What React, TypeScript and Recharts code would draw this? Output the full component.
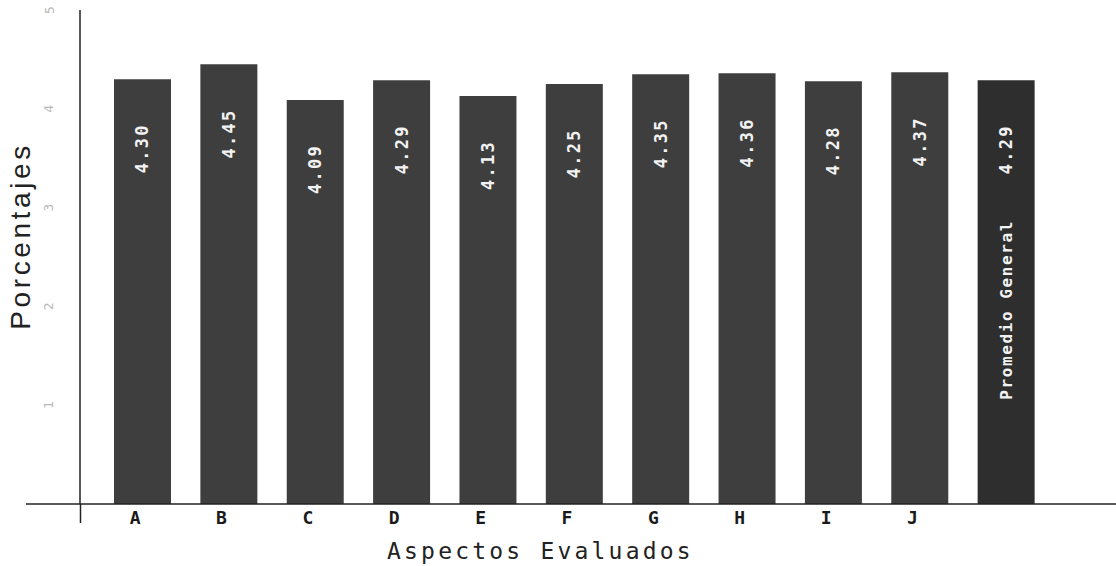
import { Bar, BarChart, Cell, LabelList, XAxis, YAxis } from 'recharts';

const categories = ['A', 'B', 'C', 'D', 'E', 'F', 'G', 'H', 'I', 'J', 'Promedio General'];
const values = [4.3, 4.45, 4.09, 4.29, 4.13, 4.25, 4.35, 4.36, 4.28, 4.37, 4.29];
const valueLabels = ['4.30', '4.45', '4.09', '4.29', '4.13', '4.25', '4.35', '4.36', '4.28', '4.37', '4.29'];
const yTicks = [1, 2, 3, 4, 5];

const data = categories.map((name, i) => ({ name, value: values[i], label: valueLabels[i] }));

const MONO = '"DejaVu Sans Mono", "Liberation Mono", monospace';

function YTick(props: any) {
    const { x, y, payload } = props;
    const cx = x - 23;
    return (
        <text
            x={cx}
            y={y}
            transform={`rotate(-90, ${cx}, ${y})`}
            textAnchor="middle"
            dominantBaseline="central"
            fontFamily={MONO}
            fontSize={13}
            fill="#b8b8b8"
        >
            {payload.value}
        </text>
    );
}

function XTick(props: any) {
    const { x, y, payload } = props;
    if (payload.value === 'Promedio General') return null;
    return (
        <text
            x={x - 7}
            y={y + 12}
            textAnchor="middle"
            fontFamily={MONO}
            fontWeight="bold"
            fontSize={18}
            fill="#1a1a1a"
        >
            {payload.value}
        </text>
    );
}

function BarLabel(props: any) {
    const { x, y, width, index } = props;
    const cx = x + width / 2;
    const ty = y + 44;
    const isLast = index === categories.length - 1;
    return (
        <g>
            <text
                x={cx}
                y={ty}
                transform={`rotate(-90, ${cx}, ${ty})`}
                textAnchor="end"
                dominantBaseline="central"
                fontFamily={MONO}
                fontWeight="bold"
                fontSize={17}
                letterSpacing={2.3}
                fill="#f2f2f2"
            >
                {valueLabels[index]}
            </text>
            {isLast && (
                <text
                    x={cx}
                    y={220}
                    transform={`rotate(-90, ${cx}, 220)`}
                    textAnchor="end"
                    dominantBaseline="central"
                    fontFamily={MONO}
                    fontWeight="bold"
                    fontSize={16}
                    letterSpacing={1.6}
                    fill="#f2f2f2"
                >
                    {categories[index]}
                </text>
            )}
        </g>
    );
}

export default function App() {
    return (
        <div style={{ position: 'absolute', left: 0, top: 0, width: 1116, height: 566, background: '#fff' }}>
            <BarChart width={1116} height={566} data={data} margin={{ top: 10, right: 0, bottom: 0, left: 0 }}>
                <XAxis
                    dataKey="name"
                    height={62}
                    padding={{ left: 19, right: 67 }}
                    axisLine={{ stroke: '#222', strokeWidth: 1.5 }}
                    tickLine={false}
                    tick={<XTick />}
                    interval={0}
                    label={() => (
                        <text x={387} y={559} fontFamily={MONO} fontSize={23} letterSpacing={3.2} fill="#222">
                            Aspectos Evaluados
                        </text>
                    )}
                />
                <YAxis
                    width={80}
                    domain={[0, 5]}
                    ticks={yTicks}
                    axisLine={{ stroke: '#222', strokeWidth: 1.5 }}
                    tickLine={false}
                    tick={<YTick />}
                    label={() => (
                        <text
                            x={20}
                            y={236}
                            transform="rotate(-90, 20, 236)"
                            textAnchor="middle"
                            dominantBaseline="central"
                            fontFamily='"Liberation Sans", Arial, sans-serif'
                            fontSize={28}
                            letterSpacing={3.6}
                            fill="#222"
                        >
                            Porcentajes
                        </text>
                    )}
                />
                <Bar dataKey="value" barSize={57} isAnimationActive={false}>
                    {data.map((d, i) => (
                        <Cell key={d.name} fill={i === data.length - 1 ? '#2e2e2e' : '#3e3e3e'} />
                    ))}
                    <LabelList dataKey="label" content={<BarLabel />} />
                </Bar>
            </BarChart>
            <svg width={1116} height={566} style={{ position: 'absolute', left: 0, top: 0, pointerEvents: 'none' }}>
                <line x1={26} y1={504} x2={80} y2={504} stroke="#222" strokeWidth={1.5} />
                <line x1={80.5} y1={504} x2={80.5} y2={523} stroke="#222" strokeWidth={1.5} />
            </svg>
        </div>
    );
}
